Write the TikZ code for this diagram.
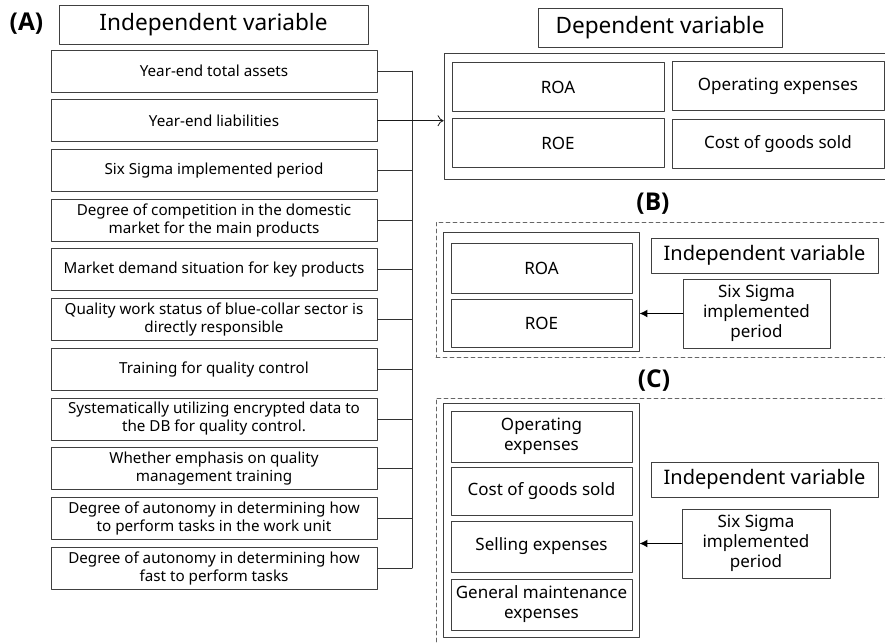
\documentclass[tikz,border=0pt]{standalone}
\usepackage{fontspec}
\setmainfont{Noto Sans}
\newfontfamily\tagfont{Open Sans}
\usetikzlibrary{arrows.meta}

\tikzset{
  box/.style={draw=black!75, line width=0.8pt, inner sep=0pt, align=center},
  leftbox/.style={box, minimum width=326pt, minimum height=42pt,
    font=\fontsize{15.2}{18}\selectfont},
  rightbox/.style={box, font=\fontsize{17}{20}\selectfont},
  titlebox/.style={box, font=\fontsize{22.6}{26}\selectfont},
  panel/.style={draw=black!60, line width=0.8pt, dash pattern=on 4pt off 3pt,
    inner sep=0pt},
  tag/.style={font=\tagfont\bfseries\fontsize{24.5}{28}\selectfont}
}

\begin{document}
\begin{tikzpicture}[x=1pt, y=-1pt, line cap=round, line join=round]
  \useasboundingbox (0,0) rectangle (885,643);

  % (A) independent variables feeding the dependent ones
  \node[tag] (labA) at (26.5,24) {(A)};
  \node[titlebox, minimum width=309pt, minimum height=39pt] (indA) at (213.5,24.5) {Independent variable};

  \foreach \t [count=\i] in {Year-end total assets, Year-end liabilities,
      Six Sigma implemented period,
      {Degree of competition in the domestic\\market for the main products},
      Market demand situation for key products,
      {Quality work status of blue-collar sector is\\directly responsible},
      Training for quality control,
      {Systematically utilizing encrypted data to\\the DB for quality control.},
      {Whether emphasis on quality\\management training},
      {Degree of autonomy in determining how\\to perform tasks in the work unit},
      {Degree of autonomy in determining how\\fast to perform tasks}}{
    \node[leftbox] (v\i) at (214,{71+49.7*(\i-1)}) {\t};
  }

  \coordinate (bus) at (412,71);
  \draw[black!80, line width=0.8pt] (v1.east -| bus) -- (v11.east -| bus);
  \foreach \i in {1,...,11}{
    \draw[black!80, line width=0.8pt] (v\i.east) -- (v\i.east -| bus);
  }

  \node[titlebox, minimum width=244pt, minimum height=39pt] (dep) at (660,27.5) {Dependent variable};
  \node[box, minimum width=444pt, minimum height=126pt] (depbox) at (666,116) {};
  \node[rightbox, minimum width=212pt, minimum height=49pt] (roaA) at (558,87) {ROA};
  \node[rightbox, minimum width=212pt, minimum height=49pt] (roeA) at (558,143) {ROE};
  \node[rightbox, minimum width=212pt, minimum height=49pt] (opA) at (778,86) {Operating expenses};
  \node[rightbox, minimum width=212pt, minimum height=49pt] (cgA) at (778,144) {Cost of goods sold};

  \draw[black!90, line width=0.8pt, -{To[length=6pt, width=11pt]}] (v2.east) -- (v2.east -| depbox.west);

  % (B)
  \node[tag] (labB) at (653,204) {(B)};
  \node[panel, minimum width=454pt, minimum height=135pt] (panB) at (663,289.5) {};
  \node[box, minimum width=196pt, minimum height=119pt] (grpB) at (541,291.5) {};
  \node[rightbox, minimum width=181pt, minimum height=50pt] (roaB) at (541.5,268) {ROA};
  \node[rightbox, minimum width=181pt, minimum height=48pt] (roeB) at (541.5,323) {ROE};
  \node[box, minimum width=227pt, minimum height=35pt, font=\fontsize{20}{24}\selectfont] (indB) at (764.5,255.5) {Independent variable};
  \node[rightbox, minimum width=147pt, minimum height=69pt] (sixB) at (756.5,313.5) {Six Sigma\\implemented\\period};
  \draw[line width=1.4pt, -{Latex[length=8pt, width=8pt]}] (sixB.west) -- (sixB.west -| grpB.east);

  % (C)
  \node[tag] (labC) at (654,381) {(C)};
  \node[panel, minimum width=454pt, minimum height=252pt] (panC) at (663,524) {};
  \node[box, minimum width=196pt, minimum height=234pt] (grpC) at (541,520) {};
  \node[rightbox, minimum width=181pt, minimum height=51pt] (opC) at (541.5,436.5) {Operating\\expenses};
  \node[rightbox, minimum width=181pt, minimum height=48pt] (cgC) at (541.5,491) {Cost of goods sold};
  \node[rightbox, minimum width=181pt, minimum height=51pt] (slC) at (541.5,546.5) {Selling expenses};
  \node[rightbox, minimum width=181pt, minimum height=51pt] (gmC) at (541.5,604.5) {General maintenance\\expenses};
  \node[box, minimum width=227pt, minimum height=35pt, font=\fontsize{20}{24}\selectfont] (indC) at (764.5,479.5) {Independent variable};
  \node[rightbox, minimum width=148pt, minimum height=69pt] (sixC) at (756,543.5) {Six Sigma\\implemented\\period};
  \draw[line width=1.4pt, -{Latex[length=8pt, width=8pt]}] (sixC.west) -- (sixC.west -| grpC.east);

\end{tikzpicture}
\end{document}
